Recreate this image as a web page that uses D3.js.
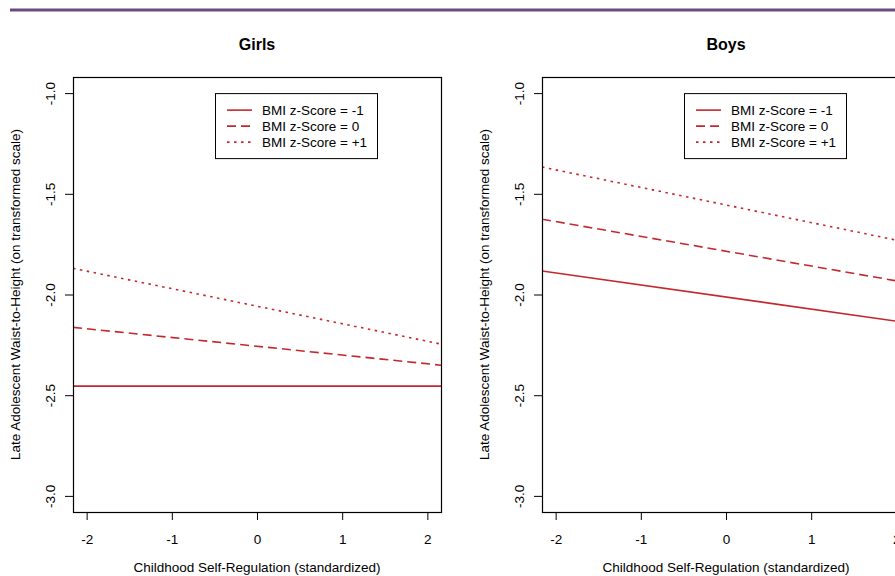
<!DOCTYPE html>
<html>
<head>
<meta charset="utf-8">
<script src="https://cdn.jsdelivr.net/npm/d3@7"></script>
<style>
  body { margin: 0; background: #fff; }
  text { font-family: "Liberation Sans", Arial, sans-serif; fill: #000; }
</style>
</head>
<body>
<script>
// values (line ends at the plot edges)
const selfReg = [-2.16, 2.16];
const girlsLow = [-2.455, -2.455];
const girlsMid = [-2.163, -2.351];
const girlsHigh = [-1.870, -2.246];
const boysLow = [-1.883, -2.142];
const boysMid = [-1.626, -1.944];
const boysHigh = [-1.367, -1.744];

const seriesNames = ["BMI z-Score = -1", "BMI z-Score = 0", "BMI z-Score = +1"];
const xTicks = [-2, -1, 0, 1, 2];
const xTickLabels = ["-2", "-1", "0", "1", "2"];
const yTicks = [-3, -2.5, -2, -1.5, -1];
const yTickLabels = ["-3.0", "-2.5", "-2.0", "-1.5", "-1.0"];

const w = 895, h = 576;
const plotW = 368, plotTop = 77, plotBottom = 512;
const red = "#c4282e";
const dashes = [null, "9,5", "2.5,4.5"];

const panels = [
  {title: "Girls", left: 73, lines: [girlsLow, girlsMid, girlsHigh]},
  {title: "Boys", left: 542, lines: [boysLow, boysMid, boysHigh]}
];

const svg = d3.select("body").append("svg")
    .attr("width", w)
    .attr("height", h);

// purple rule on top
svg.append("line")
    .attr("x1", 10).attr("x2", w)
    .attr("y1", 10).attr("y2", 10)
    .attr("stroke", "#6b4a7f")
    .attr("stroke-width", 3);

panels.forEach((p, pi) => {
  const x = d3.scaleLinear().domain([-2.16, 2.16]).range([p.left, p.left + plotW]);
  const y = d3.scaleLinear().domain([-3.08, -0.92]).range([plotBottom, plotTop]);
  const g = svg.append("g");

  g.append("clipPath").attr("id", "clip" + pi)
    .append("rect")
      .attr("x", p.left).attr("y", plotTop)
      .attr("width", plotW).attr("height", plotBottom - plotTop);

  const line = d3.line()
      .x((d, i) => x(selfReg[i]))
      .y(d => y(d));

  g.append("g").attr("clip-path", "url(#clip" + pi + ")")
    .selectAll("path")
    .data(p.lines)
    .enter()
    .append("path")
      .attr("d", line)
      .attr("fill", "none")
      .attr("stroke", red)
      .attr("stroke-width", 1.6)
      .attr("stroke-dasharray", (d, i) => dashes[i]);

  // box
  g.append("rect")
      .attr("x", p.left + 0.5).attr("y", plotTop + 0.5)
      .attr("width", plotW).attr("height", plotBottom - plotTop)
      .attr("fill", "none")
      .attr("stroke", "#000")
      .attr("stroke-width", 1.2);

  const xAxis = g.append("g")
      .attr("transform", `translate(0,${plotBottom})`)
      .call(d3.axisBottom(x).tickValues(xTicks)
        .tickFormat((d, i) => xTickLabels[i])
        .tickSize(8).tickPadding(14));
  xAxis.select(".domain").remove();
  xAxis.selectAll("text").attr("font-size", "13.5px").attr("font-family", null);

  const yAxis = g.append("g")
      .attr("transform", `translate(${p.left},0)`)
      .call(d3.axisLeft(y).tickValues(yTicks)
        .tickFormat((d, i) => yTickLabels[i])
        .tickSize(8));
  yAxis.select(".domain").remove();
  yAxis.selectAll("text")
      .attr("font-size", "13.5px")
      .attr("font-family", null)
      .attr("text-anchor", "middle")
      .attr("x", 0).attr("y", -18).attr("dy", null)
      .attr("transform", "rotate(-90)");

  // titles
  g.append("text")
      .attr("x", p.left + plotW / 2).attr("y", 50)
      .attr("text-anchor", "middle")
      .attr("font-size", "16px")
      .attr("font-weight", "bold")
      .text(p.title);

  g.append("text")
      .attr("x", p.left + plotW / 2).attr("y", 572)
      .attr("text-anchor", "middle")
      .attr("font-size", "13.5px")
      .text("Childhood Self-Regulation (standardized)");

  g.append("text")
      .attr("transform", `translate(${p.left - 53},${(plotTop + plotBottom) / 2}) rotate(-90)`)
      .attr("text-anchor", "middle")
      .attr("font-size", "13.5px")
      .text("Late Adolescent Waist-to-Height (on transformed scale)");

  // legend
  const lg = g.append("g").attr("transform", `translate(${p.left + 142},${y(-1)})`);
  lg.append("rect")
      .attr("x", 0.5).attr("y", 0.5)
      .attr("width", 162).attr("height", 65)
      .attr("fill", "#fff")
      .attr("stroke", "#000");
  seriesNames.forEach((name, i) => {
    lg.append("line")
        .attr("x1", 12).attr("x2", 37)
        .attr("y1", 17 + i * 16).attr("y2", 17 + i * 16)
        .attr("stroke", red)
        .attr("stroke-width", 1.6)
        .attr("stroke-dasharray", dashes[i]);
    lg.append("text")
        .attr("x", 47).attr("y", 17 + i * 16 + 5)
        .attr("font-size", "13.5px")
        .text(name);
  });
});
</script>
</body>
</html>
